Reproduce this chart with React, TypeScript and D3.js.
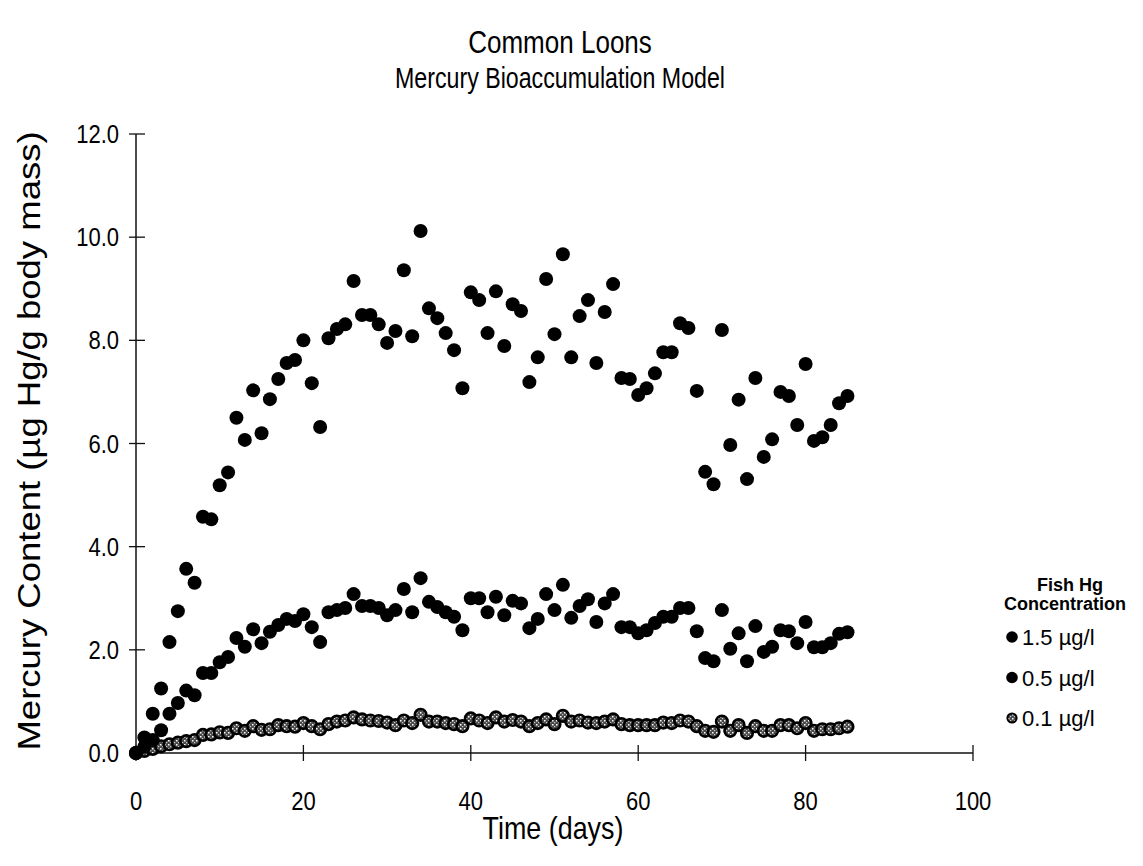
import React, { useEffect, useRef } from 'react';
import * as d3 from 'd3';

const W = 1143;
const H = 866;

// mercury content (µg Hg/g body mass), one value per day, day 0 first
const hg15 = [
  0.0, 0.3, 0.76, 1.25, 2.15, 2.75, 3.57, 3.3, 4.58, 4.53,
  5.19, 5.44, 6.5, 6.07, 7.03, 6.2, 6.86, 7.25, 7.56, 7.62,
  8.0, 7.17, 6.32, 8.04, 8.22, 8.31, 9.15, 8.49, 8.49, 8.31,
  7.95, 8.18, 9.36, 8.08, 10.12, 8.62, 8.43, 8.14, 7.81, 7.07,
  8.93, 8.78, 8.14, 8.95, 7.89, 8.7, 8.57, 7.19, 7.67, 9.19,
  8.12, 9.67, 7.67, 8.47, 8.78, 7.56, 8.55, 9.09, 7.27, 7.25,
  6.94, 7.07, 7.36, 7.77, 7.77, 8.33, 8.24, 7.02, 5.45, 5.21,
  8.2, 5.97, 6.85, 5.31, 7.27, 5.74, 6.08, 7.0, 6.92, 6.36,
  7.54, 6.05, 6.12, 6.36, 6.78, 6.92,
];
const hg05 = [
  0.0, 0.12, 0.25, 0.44, 0.76, 0.97, 1.21, 1.12, 1.55, 1.55,
  1.76, 1.86, 2.23, 2.06, 2.4, 2.13, 2.35, 2.48, 2.6, 2.56,
  2.69, 2.44, 2.15, 2.73, 2.77, 2.81, 3.08, 2.85, 2.85, 2.81,
  2.67, 2.77, 3.18, 2.73, 3.39, 2.93, 2.83, 2.73, 2.64, 2.38,
  3.0, 3.0, 2.73, 3.03, 2.67, 2.95, 2.9, 2.42, 2.6, 3.08,
  2.77, 3.26, 2.62, 2.85, 2.98, 2.54, 2.9, 3.08, 2.44, 2.44,
  2.32, 2.38, 2.52, 2.64, 2.64, 2.81, 2.81, 2.36, 1.84, 1.78,
  2.77, 2.02, 2.32, 1.78, 2.46, 1.96, 2.06, 2.38, 2.36, 2.13,
  2.54, 2.05, 2.05, 2.13, 2.31, 2.34,
];
const hg01 = [
  0.0, 0.04, 0.08, 0.13, 0.17, 0.2, 0.23, 0.25, 0.35, 0.36,
  0.4, 0.39, 0.48, 0.43, 0.52, 0.45, 0.46, 0.54, 0.52, 0.51,
  0.58, 0.52, 0.46, 0.56, 0.61, 0.63, 0.69, 0.65, 0.63, 0.62,
  0.59, 0.54, 0.63, 0.58, 0.74, 0.61, 0.61, 0.58, 0.56, 0.52,
  0.67, 0.63, 0.58, 0.69, 0.61, 0.64, 0.61, 0.52, 0.58, 0.65,
  0.56, 0.72, 0.61, 0.63, 0.59, 0.58, 0.61, 0.65, 0.56, 0.54,
  0.54, 0.54, 0.54, 0.59, 0.58, 0.63, 0.61, 0.52, 0.43, 0.41,
  0.61, 0.43, 0.54, 0.39, 0.52, 0.43, 0.43, 0.54, 0.54, 0.48,
  0.58, 0.43, 0.46, 0.46, 0.48, 0.51,
];

const xTicks = [0, 20, 40, 60, 80, 100];
const yTicks = [0, 2, 4, 6, 8, 10, 12];
const legendLabels = ['1.5 µg/l', '0.5 µg/l', '0.1 µg/l'];
const titleLines = ['Common Loons', 'Mercury Bioaccumulation Model'];

const FONT = '"Liberation Sans", Arial, Helvetica, sans-serif';
const SQ = 0.84; // the scan's letters are narrow

export default function App() {
  const svgRef = useRef<SVGSVGElement>(null);

  useEffect(() => {
    const svg = d3.select(svgRef.current);
    svg.selectAll('*').remove();

    const x = d3.scaleLinear().domain([0, 100]).range([136, 973]);
    const y = d3.scaleLinear().domain([0, 12]).range([753, 134]);

    // speckled fill for the 0.1 µg/l markers
    const pat = svg.append('defs').append('pattern')
      .attr('id', 'speckle')
      .attr('width', 4).attr('height', 4)
      .attr('patternUnits', 'userSpaceOnUse');
    pat.append('rect').attr('width', 4).attr('height', 4).attr('fill', '#4a4a4a');
    pat.append('rect').attr('width', 1.5).attr('height', 1.5).attr('fill', '#fff');
    pat.append('rect').attr('x', 2).attr('y', 2).attr('width', 1.2).attr('height', 1.2).attr('fill', '#ccc');

    // title
    svg.selectAll('.title')
      .data(titleLines)
      .enter()
      .append('text')
      .attr('class', 'title')
      .attr('transform', (d, i) => `translate(560,${53 + i * 35}) scale(${i === 0 ? SQ : 0.8},1)`)
      .attr('text-anchor', 'middle')
      .style('font-family', FONT)
      .style('font-size', (d, i) => (i === 0 ? '31px' : '29px'))
      .text(d => d);

    // axes lines
    svg.append('line')
      .attr('x1', x(0)).attr('x2', x(0))
      .attr('y1', y(12)).attr('y2', y(0))
      .style('stroke', '#111').style('stroke-width', 1.5);
    svg.append('line')
      .attr('x1', x(0)).attr('x2', x(100))
      .attr('y1', y(0)).attr('y2', y(0))
      .style('stroke', '#111').style('stroke-width', 1.5);

    // y ticks cross the axis
    svg.selectAll('.ytick')
      .data(yTicks)
      .enter()
      .append('line')
      .attr('class', 'ytick')
      .attr('x1', x(0) - 7).attr('x2', x(0) + 9)
      .attr('y1', d => y(d)).attr('y2', d => y(d))
      .style('stroke', '#111').style('stroke-width', 1.3);
    svg.selectAll('.ylab')
      .data(yTicks)
      .enter()
      .append('text')
      .attr('class', 'ylab')
      .attr('transform', d => `translate(119,${y(d) + 9}) scale(0.88,1)`)
      .attr('text-anchor', 'end')
      .style('font-family', FONT)
      .style('font-size', '25px')
      .text(d => d.toFixed(1));

    svg.selectAll('.xtick')
      .data(xTicks)
      .enter()
      .append('line')
      .attr('class', 'xtick')
      .attr('x1', d => x(d)).attr('x2', d => x(d))
      .attr('y1', y(0) - 8).attr('y2', y(0) + 8)
      .style('stroke', '#111').style('stroke-width', 1.3);
    svg.selectAll('.xlab')
      .data(xTicks)
      .enter()
      .append('text')
      .attr('class', 'xlab')
      .attr('transform', d => `translate(${x(d)},810) scale(0.88,1)`)
      .attr('text-anchor', 'middle')
      .style('font-family', FONT)
      .style('font-size', '25px')
      .text(d => d);

    // axis titles
    svg.append('text')
      .attr('transform', `translate(553,839) scale(${SQ},1)`)
      .attr('text-anchor', 'middle')
      .style('font-family', FONT)
      .style('font-size', '32px')
      .text('Time (days)');
    svg.append('text')
      .attr('transform', `translate(40,441) rotate(-90) scale(1,${SQ})`)
      .attr('text-anchor', 'middle')
      .style('font-family', FONT)
      .style('font-size', '36.5px')
      .text('Mercury Content (µg Hg/g body mass)');

    // points
    const series = [
      { values: hg01, fill: 'url(#speckle)', stroke: '#000', sw: 2.6, r: 5.8 },
      { values: hg05, fill: '#000', stroke: 'none', sw: 0, r: 7 },
      { values: hg15, fill: '#000', stroke: 'none', sw: 0, r: 7 },
    ];
    series.forEach(s => {
      svg.append('g')
        .selectAll('circle')
        .data(s.values)
        .enter()
        .append('circle')
        .attr('cx', (d, i) => x(i))
        .attr('cy', d => y(d))
        .attr('r', s.r)
        .style('fill', s.fill)
        .style('stroke', s.stroke)
        .style('stroke-width', s.sw);
    });

    // legend
    const lg = svg.append('g');
    lg.append('text')
      .attr('x', 1070).attr('y', 591)
      .attr('text-anchor', 'middle')
      .style('font-family', FONT).style('font-weight', 'bold').style('font-size', '18px')
      .text('Fish Hg');
    lg.append('text')
      .attr('x', 1065).attr('y', 610)
      .attr('text-anchor', 'middle')
      .style('font-family', FONT).style('font-weight', 'bold').style('font-size', '18px')
      .text('Concentration');
    const legendStyle = [series[2], series[1], series[0]];
    const items = lg.selectAll('.item')
      .data(legendLabels)
      .enter()
      .append('g')
      .attr('class', 'item')
      .attr('transform', (d, i) => `translate(1012,${637 + i * 40.5})`);
    items.append('circle')
      .attr('r', (d, i) => (i === 2 ? 4.6 : 5.8))
      .style('fill', (d, i) => legendStyle[i].fill)
      .style('stroke', (d, i) => (i === 2 ? '#000' : 'none'))
      .style('stroke-width', 2);
    items.append('text')
      .attr('x', 10).attr('y', 8)
      .style('font-family', FONT).style('font-size', '22px')
      .text(d => d);
  }, []);

  return (
    <svg ref={svgRef} width={W} height={H}
      style={{ position: 'absolute', left: 0, top: 0, background: '#fff' }} />
  );
}
